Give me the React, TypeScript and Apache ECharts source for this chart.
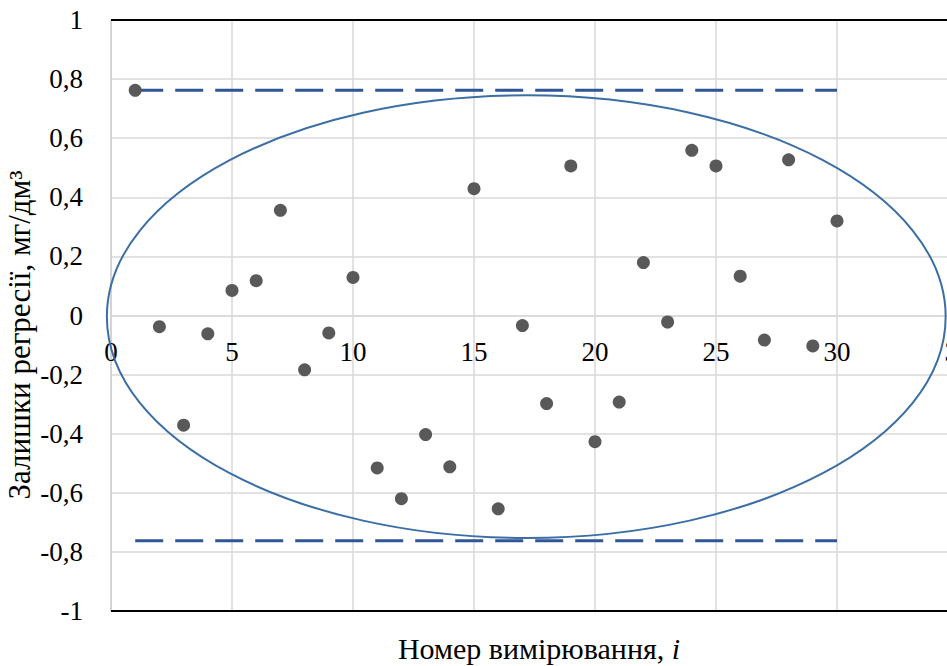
import React, { useEffect, useRef } from "react";
import * as echarts from "echarts";

const measurementIndex = [1, 2, 3, 4, 5, 6, 7, 8, 9, 10, 11, 12, 13, 14, 15, 16, 17, 18, 19, 20, 21, 22, 23, 24, 25, 26, 27, 28, 29, 30];
const residuals = [0.762, -0.038, -0.371, -0.062, 0.085, 0.118, 0.356, -0.184, -0.059, 0.129, -0.516, -0.62, -0.403, -0.512, 0.429, -0.654, -0.034, -0.298, 0.506, -0.427, -0.293, 0.179, -0.022, 0.559, 0.506, 0.133, -0.083, 0.527, -0.103, 0.32];
const limitX = [1, 30];
const upperLimit = [0.762, 0.762];
const lowerLimit = [-0.762, -0.762];
// ellipse: centre x, centre y, semi-axis x, semi-axis y (data units)
const ellipseParams = [17.16, -0.004, 17.33, 0.749];
const frameLines = [1, -1];

const yAxisTitle = "Залишки регресії, мг/дм³";
const xAxisTitle = "Номер вимірювання, ";

const SERIF = "'Liberation Serif', 'Times New Roman', serif";

export default function App() {
  const ref = useRef<HTMLDivElement>(null);
  useEffect(() => {
    if (!ref.current) return;
    const chart = echarts.init(ref.current, undefined, { renderer: "svg" });
    const pts = measurementIndex.map((x, i) => [x, residuals[i]]);
    chart.setOption({
      animation: false,
      backgroundColor: "#ffffff",
      grid: { left: 111, top: 20, width: 847, height: 591, containLabel: false },
      xAxis: {
        type: "value",
        min: 0,
        max: 35,
        interval: 5,
        position: "bottom",
        offset: -295.5,
        axisLine: { show: true, onZero: false, lineStyle: { color: "#d9d9d9", width: 1.5 } },
        axisTick: { show: false },
        axisLabel: { color: "#000", fontFamily: SERIF, fontSize: 27, margin: 23 },
        splitLine: { show: true, lineStyle: { color: "#d9d9d9", width: 1.5 } },
      },
      yAxis: {
        type: "value",
        min: -1,
        max: 1,
        interval: 0.2,
        axisLine: { show: true, lineStyle: { color: "#cfcfcf", width: 1.5 } },
        axisTick: { show: false },
        axisLabel: {
          color: "#000",
          fontFamily: SERIF,
          fontSize: 27,
          margin: 28,
          formatter: (v: number) => {
            const r = Math.round(v * 10) / 10;
            if (r === 0) return "0";
            return (Number.isInteger(r) ? String(r) : r.toFixed(1)).replace(".", ",");
          },
        },
        splitLine: { show: true, lineStyle: { color: "#d9d9d9", width: 1.5 } },
      },
      series: [
        {
          type: "custom",
          clip: false,
          z: 2,
          data: [ellipseParams],
          renderItem: (params: any, api: any) => {
            const c = api.coord([api.value(0), api.value(1)]);
            const s = api.size([api.value(2), api.value(3)]);
            return {
              type: "ellipse",
              shape: { cx: c[0], cy: c[1], rx: s[0], ry: s[1] },
              style: { fill: "none", stroke: "#3a6ea5", lineWidth: 2 },
            };
          },
        },
        {
          type: "line",
          z: 3,
          symbol: "none",
          data: limitX.map((x, i) => [x, upperLimit[i]]),
          lineStyle: { color: "#2f5597", width: 3, type: [28, 12] },
        },
        {
          type: "line",
          z: 3,
          symbol: "none",
          data: limitX.map((x, i) => [x, lowerLimit[i]]),
          lineStyle: { color: "#2f5597", width: 3, type: [28, 12] },
        },
        {
          type: "scatter",
          z: 4,
          symbol: "circle",
          symbolSize: 13,
          itemStyle: { color: "#595959", opacity: 1 },
          data: pts,
          markLine: {
            silent: true,
            symbol: "none",
            label: { show: false },
            lineStyle: { color: "#000", width: 2, type: "solid", opacity: 1 },
            data: frameLines.map((y) => ({ yAxis: y })),
          },
        },
      ],
      graphic: [
        {
          type: "text",
          x: 19,
          y: 335,
          rotation: Math.PI / 2,
          style: {
            text: yAxisTitle,
            font: `31px ${SERIF}`,
            fill: "#000",
            align: "center",
            verticalAlign: "middle",
          },
        },
        {
          type: "text",
          x: 539,
          y: 648,
          style: {
            text: xAxisTitle + "{i|i}",
            font: `30px ${SERIF}`,
            fill: "#000",
            align: "center",
            verticalAlign: "middle",
            rich: {
              i: { fontStyle: "italic", fontFamily: SERIF, fontSize: 30, fill: "#000" },
            },
          },
        },
      ],
    });
    return () => chart.dispose();
  }, []);
  return (
    <div style={{ position: "fixed", left: 0, top: 0, width: 947, height: 666, overflow: "hidden", background: "#fff" }}>
      <div ref={ref} style={{ width: 980, height: 666 }} />
    </div>
  );
}
